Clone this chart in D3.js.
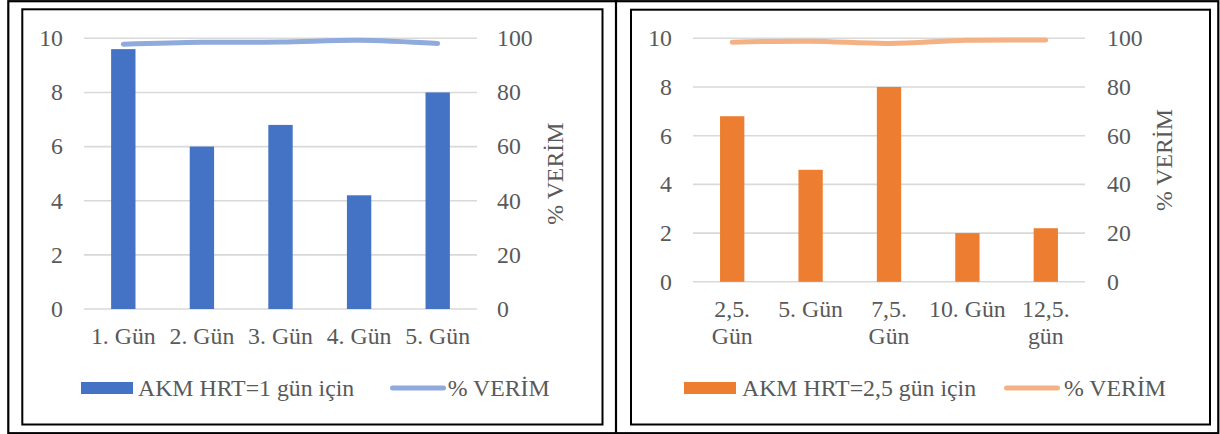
<!DOCTYPE html>
<html>
<head>
<meta charset="utf-8">
<script src="https://cdn.jsdelivr.net/npm/d3@7/dist/d3.min.js"></script>
<style>
  html, body { margin: 0; padding: 0; background: #fff; }
  svg { display: block; }
</style>
</head>
<body>
<svg id="chart" width="1220" height="434"></svg>
<script>
// ---- Data ----
const leftCategories = ["1. Gün", "2. Gün", "3. Gün", "4. Gün", "5. Gün"];
const leftAkm = [9.6, 6.0, 6.8, 4.2, 8.0];
const leftVerim = [97.8, 98.5, 98.6, 99.3, 98.1];

const rightCategories = ["2,5.\nGün", "5. Gün", "7,5.\nGün", "10. Gün", "12,5.\ngün"];
const rightAkm = [6.8, 4.6, 8.0, 2.0, 2.2];
const rightVerim = [98.4, 98.8, 97.9, 99.2, 99.3];

const akmTicks = [0, 2, 4, 6, 8, 10];
const verimTicks = [0, 20, 40, 60, 80, 100];

const leftLegend = ["AKM HRT=1 gün için", "% VERİM"];
const rightLegend = ["AKM HRT=2,5 gün için", "% VERİM"];
const verimTitle = "% VERİM";

// ---- Drawing ----
const FONT = "Liberation Serif";
const svg = d3.select("#chart").attr("font-family", FONT);
const FS = 23.8;
const TXT = "#595959";

// outer table frame
svg.append("rect").attr("x", 8.3).attr("y", 1.2).attr("width", 1210).attr("height", 432)
  .attr("fill", "none").attr("stroke", "#000").attr("stroke-width", 2.2);
svg.append("line").attr("x1", 616).attr("x2", 616).attr("y1", 0).attr("y2", 434)
  .attr("stroke", "#000").attr("stroke-width", 2.2);

function txt(sel) {
  return sel.append("text").attr("font-family", FONT).attr("font-size", FS).attr("fill", TXT);
}

function drawChart(o) {
  const g = svg.append("g");
  // chart border
  g.append("rect").attr("x", o.box[0]).attr("y", o.box[1])
    .attr("width", o.box[2] - o.box[0]).attr("height", o.box[3] - o.box[1])
    .attr("fill", "#fff").attr("stroke", "#000").attr("stroke-width", 2);

  const x = d3.scaleBand().domain(o.categories).range([o.x0, o.x1])
    .paddingInner(0.69).paddingOuter(0.345);
  const y = d3.scaleLinear().domain([0, 10]).range([o.yBottom, o.yTop]);
  const y2 = d3.scaleLinear().domain([0, 100]).range([o.yBottom, o.yTop]);

  // gridlines
  g.selectAll(".grid").data(o.ticks).enter().append("line")
    .attr("x1", o.x0).attr("x2", o.x1)
    .attr("y1", d => y(d)).attr("y2", d => y(d))
    .attr("stroke", "#D9D9D9").attr("stroke-width", 1.6);

  // left axis labels
  o.ticks.forEach(d => {
    txt(g).attr("x", o.yLabelRight).attr("y", y(d) + 7.8)
      .attr("text-anchor", "end").text(d);
  });

  // right axis labels
  o.ticks2.forEach(d => {
    txt(g).attr("x", o.y2LabelLeft).attr("y", y2(d) + 7.8)
      .attr("text-anchor", "start").text(d);
  });

  // right axis title
  txt(g)
    .attr("transform", `translate(${o.titleX + 8},${(o.yTop + o.yBottom) / 2}) rotate(-90)`)
    .attr("text-anchor", "middle").text(verimTitle);

  // bars
  g.selectAll(".bar").data(o.values).enter().append("rect")
    .attr("x", (d, i) => x(o.categories[i]))
    .attr("y", d => y(d))
    .attr("width", x.bandwidth())
    .attr("height", d => y(0) - y(d))
    .attr("fill", o.barColor);

  // line
  const line = d3.line()
    .x((d, i) => x(o.categories[i]) + x.bandwidth() / 2)
    .y(d => y2(d))
    .curve(d3.curveCatmullRom.alpha(0.5));
  g.append("path").datum(o.verim).attr("d", line)
    .attr("fill", "none").attr("stroke", o.lineColor).attr("stroke-width", 5)
    .attr("stroke-linecap", "round").attr("stroke-linejoin", "round");

  // x labels
  o.categories.forEach((c, i) => {
    const cx = x(c) + x.bandwidth() / 2;
    const t = txt(g).attr("text-anchor", "middle");
    c.split("\n").forEach((part, j) => {
      t.append("tspan").attr("x", cx).attr("y", o.yBottom + 35 + j * 27).text(part);
    });
  });

  // legend
  const L = o.legend;
  g.append("rect").attr("x", L.sw).attr("y", 382).attr("width", 52).attr("height", 12)
    .attr("fill", o.barColor);
  txt(g).attr("x", L.t1).attr("y", 396).text(o.legendText[0]);
  g.append("line").attr("x1", L.l1 + 2.5).attr("x2", L.l1 + 53.5).attr("y1", 388).attr("y2", 388)
    .attr("stroke", o.lineColor).attr("stroke-width", 5).attr("stroke-linecap", "round");
  txt(g).attr("x", L.t2).attr("y", 396).text(o.legendText[1]);
}

drawChart({
  box: [22.3, 9.3, 602.5, 424.5],
  categories: leftCategories, values: leftAkm, verim: leftVerim,
  ticks: akmTicks, ticks2: verimTicks,
  x0: 84, x1: 477, yTop: 38.3, yBottom: 309,
  yLabelRight: 63, y2LabelLeft: 497, titleX: 555,
  barColor: "#4472C4", lineColor: "#8FAADC",
  legend: { sw: 81, t1: 138, l1: 390, t2: 447.7 },
  legendText: leftLegend
});

drawChart({
  box: [631, 9.7, 1210, 424.5],
  categories: rightCategories, values: rightAkm, verim: rightVerim,
  ticks: akmTicks, ticks2: verimTicks,
  x0: 693, x1: 1085, yTop: 38.3, yBottom: 281.8,
  yLabelRight: 672, y2LabelLeft: 1107, titleX: 1164,
  barColor: "#ED7D31", lineColor: "#F4B183",
  legend: { sw: 684, t1: 742, l1: 1004, t2: 1064 },
  legendText: rightLegend
});
</script>
</body>
</html>
